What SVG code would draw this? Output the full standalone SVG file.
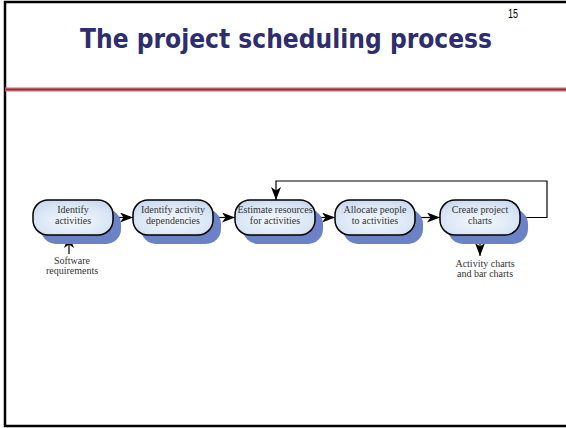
<svg xmlns="http://www.w3.org/2000/svg" width="566" height="428" viewBox="0 0 566 428">
<defs>
<radialGradient id="nodeFill" cx="0.5" cy="0.6" r="0.7">
<stop offset="0" stop-color="#f4f8fd"/>
<stop offset="0.6" stop-color="#dde8f6"/>
<stop offset="1" stop-color="#c5d6ee"/>
</radialGradient>
<marker id="arrow" viewBox="0 0 13 10" refX="13" refY="5" markerWidth="13" markerHeight="10" markerUnits="userSpaceOnUse" orient="auto">
<path d="M0,0 L13,5 L0,10 L3.5,5 Z" fill="#000"/>
</marker>
</defs>
<style>
.shadow{fill:#6b82c6;}
.box{fill:url(#nodeFill);stroke:#000;stroke-width:1.5;}
.lbl{font-family:"Liberation Serif","Times New Roman",serif;font-size:10px;fill:#333;text-anchor:middle;}
.conn{fill:none;stroke:#000;stroke-width:1.2;}
</style>
<rect x="0" y="0" width="566" height="428" fill="#fff"/>
<!-- frame -->
<path d="M567,2 L5,2 L5,426 L567,426" fill="none" stroke="#000" stroke-width="2.5"/>
<rect x="5" y="87.5" width="561" height="4" fill="#c46a74"/>
<line x1="5" y1="89.5" x2="566" y2="89.5" stroke="#9c2f3d" stroke-width="1.6"/>
<text x="286" y="48" font-family="'Comic Sans MS','DejaVu Sans',sans-serif" font-weight="bold" font-size="27" fill="#2e2e6e" text-anchor="middle" textLength="412" lengthAdjust="spacingAndGlyphs">The project scheduling process</text>
<text x="513" y="18" font-family="'Liberation Sans',Arial,sans-serif" font-size="12" fill="#000" text-anchor="middle" textLength="10" lengthAdjust="spacingAndGlyphs">15</text>

<g id="connectors">
<line class="conn" x1="113" y1="217.5" x2="133" y2="217.5" marker-end="url(#arrow)"/>
<line class="conn" x1="213" y1="217.5" x2="235" y2="217.5" marker-end="url(#arrow)"/>
<line class="conn" x1="315" y1="217.5" x2="335" y2="217.5" marker-end="url(#arrow)"/>
<line class="conn" x1="415" y1="217.5" x2="440" y2="217.5" marker-end="url(#arrow)"/>
<path class="conn" d="M520,217.5 L547,217.5 L547,181 L276,181 L276,200" marker-end="url(#arrow)"/>
<line class="conn" x1="69" y1="254" x2="69" y2="235" marker-end="url(#arrow)"/>
<line class="conn" x1="480" y1="235" x2="480" y2="256" marker-end="url(#arrow)"/>
</g>

<g id="n1">
<rect class="shadow" x="41" y="209" width="80" height="35" rx="15"/>
<rect class="box" x="33" y="200" width="80" height="35" rx="15"/>
<text class="lbl" x="73" y="212.5">Identify</text>
<text class="lbl" x="73" y="223.5">activities</text>
</g>
<g id="n2">
<rect class="shadow" x="141" y="209" width="80" height="35" rx="15"/>
<rect class="box" x="133" y="200" width="80" height="35" rx="15"/>
<text class="lbl" x="173" y="212.5">Identify activity</text>
<text class="lbl" x="173" y="223.5">dependencies</text>
</g>
<g id="n3">
<rect class="shadow" x="243" y="209" width="80" height="35" rx="15"/>
<rect class="box" x="235" y="200" width="80" height="35" rx="15"/>
<text class="lbl" x="275" y="212.5">Estimate resources</text>
<text class="lbl" x="275" y="223.5">for activities</text>
</g>
<g id="n4">
<rect class="shadow" x="343" y="209" width="80" height="35" rx="15"/>
<rect class="box" x="335" y="200" width="80" height="35" rx="15"/>
<text class="lbl" x="375" y="212.5">Allocate people</text>
<text class="lbl" x="375" y="223.5">to activities</text>
</g>
<g id="n5">
<rect class="shadow" x="448" y="209" width="80" height="35" rx="15"/>
<rect class="box" x="440" y="200" width="80" height="35" rx="15"/>
<text class="lbl" x="480" y="212.5">Create project</text>
<text class="lbl" x="480" y="223.5">charts</text>
</g>
<g id="t-software">
<text class="lbl" x="72" y="264">Software</text>
<text class="lbl" x="72" y="274">requirements</text>
</g>
<g id="t-charts">
<text class="lbl" x="485" y="267">Activity charts</text>
<text class="lbl" x="485" y="277">and bar charts</text>
</g>
</svg>
